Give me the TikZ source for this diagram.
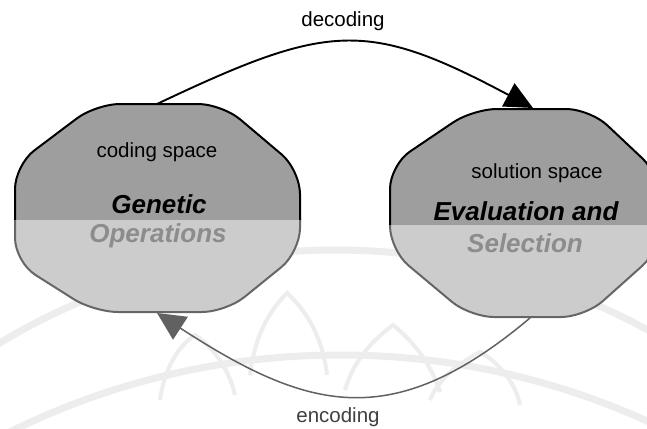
\documentclass[tikz,border=0pt]{standalone}
\usepackage{fontspec}
\setmainfont{Liberation Sans}
\usetikzlibrary{arrows.meta}

\definecolor{upperfill}{gray}{0.62}
\definecolor{lowerfill}{gray}{0.80}
\definecolor{lowerline}{gray}{0.40}
\definecolor{lowertext}{gray}{0.55}
\definecolor{encline}{gray}{0.38}
\definecolor{enctext}{gray}{0.25}
\definecolor{watermark}{gray}{0.93}

\begin{document}
\begin{tikzpicture}[x=1pt,y=-1pt,
  smalltext/.style={font=\fontsize{20.5}{24}\selectfont, anchor=base, inner sep=0pt},
  bigtext/.style={font=\fontsize{26}{30}\selectfont\bfseries\itshape, anchor=base, inner sep=0pt},
  uppertext/.style={bigtext, text=black},
  lowtext/.style={bigtext, text=lowertext},
  octa/.style={rounded corners=24pt},
  ring/.style={draw=watermark, line width=7pt},
  petal/.style={draw=watermark, line width=4pt},
  decarrow/.style={line width=1.9pt, -{Triangle[length=28pt,width=26pt]}},
  encarrow/.style={line width=1.5pt, draw=encline, -{Triangle[length=28pt,width=27pt,fill=encline]}},
]
\useasboundingbox (0,0) rectangle (647,428);
\fill[white] (0,0) rectangle (647,428);

% faint seal in the background
\draw[ring] (335,900) circle (650);
\draw[ring] (340,1100) circle (745);
\draw[petal] (250,375) .. controls (255,330) and (275,305) .. (287,293) .. controls (300,305) and (322,330) .. (327,375);
\draw[petal] (345,390) .. controls (355,355) and (380,335) .. (393,325) .. controls (405,335) and (428,355) .. (440,392);
\draw[petal] (160,400) .. controls (165,365) and (180,345) .. (195,335) .. controls (210,345) and (228,365) .. (235,395);
\draw[petal] (430,400) .. controls (440,375) and (465,360) .. (480,352) .. controls (495,360) and (515,380) .. (520,405);

% the two spaces as rounded octagons, dark upper half and light lower half
\path[octa, save path=\leftoct]
  (158,104) -- (222,104) -- (300,170) -- (300,252) -- (226,312) -- (94,312)
  -- (15,262) -- (15,165) -- (96,104) -- cycle;
\path[octa, save path=\rightoct]
  (538,109) -- (590,109) -- (660,175) -- (660,250) -- (585,317) -- (470,317)
  -- (390,250) -- (390,165) -- (473,109) -- cycle;

\begin{scope}
  \clip (0,0) rectangle (320,220);
  \filldraw[use path=\leftoct, fill=upperfill, draw=black, line width=2pt];
\end{scope}
\begin{scope}
  \clip (0,220) rectangle (320,428);
  \filldraw[use path=\leftoct, fill=lowerfill, draw=lowerline, line width=2pt];
\end{scope}
\begin{scope}
  \clip (360,0) rectangle (700,225);
  \filldraw[use path=\rightoct, fill=upperfill, draw=black, line width=2pt];
\end{scope}
\begin{scope}
  \clip (360,225) rectangle (700,428);
  \filldraw[use path=\rightoct, fill=lowerfill, draw=lowerline, line width=2pt];
\end{scope}

% texts inside the spaces
\node[smalltext] (coding) at (157,157) {coding space};
\node[uppertext] (genetic) at (159,213) {Genetic};
\node[lowtext] (operations) at (158,242) {Operations};
\node[smalltext] (solution) at (537,178) {solution space};
\node[uppertext] (evaluation) at (526,220) {Evaluation and};
\node[lowtext] (selection) at (525,252) {Selection};

% connector end points on the octagon borders
\coordinate (lefttop) at (157,104);
\coordinate (righttop) at (533,108);
\coordinate (rightbottom) at (530,318);
\coordinate (leftbottom) at (157,313);

\draw[decarrow] (lefttop) .. controls (328,23) and (366,19) .. (righttop);
\draw[encarrow] (rightbottom) .. controls (392,434) and (308,411) .. (leftbottom);

\node[smalltext] (decoding) at (343,27) {decoding};
\node[smalltext, text=enctext] (encoding) at (338,422) {encoding};
\end{tikzpicture}
\end{document}
